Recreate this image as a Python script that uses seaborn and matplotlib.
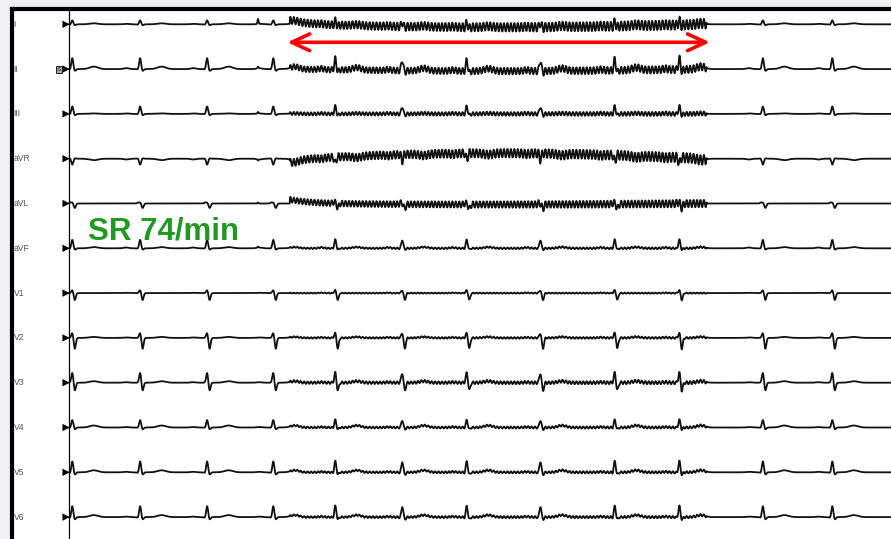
import numpy as np
import pandas as pd
import matplotlib
matplotlib.use("Agg")
import matplotlib.pyplot as plt
import seaborn as sns

# ---------------- data ----------------
leads = ["I", "II", "III", "aVR", "aVL", "aVF", "V1", "V2", "V3", "V4", "V5", "V6"]
beat_times = [0.04, 0.86, 1.67, 2.47, 3.22, 4.03, 4.81, 5.70, 6.60, 7.38, 8.39, 9.23]  # s
# wave amplitudes per lead (mV)
p_amp = [0.05, 0.10, 0.05, -0.08, 0.00, 0.08, 0.03, 0.05, 0.05, 0.05, 0.05, 0.05]
q_amp = [-0.05, -0.05, -0.05, 0.05, 0.10, -0.05, 0.00, 0.00, 0.00, -0.05, -0.10, -0.10]
r_amp = [0.40, 1.10, 0.75, -0.60, 0.10, 0.85, 0.30, 0.50, 1.00, 0.75, 1.10, 1.10]
s_amp = [-0.10, -0.20, -0.15, 0.05, -0.45, -0.15, -0.70, -1.10, -0.80, -0.20, -0.25, -0.25]
t_amp = [0.10, 0.25, 0.05, -0.15, 0.00, 0.12, 0.00, 0.10, 0.15, 0.20, 0.20, 0.20]
# interference (artefact) episode
artefact_span = [2.67, 7.71]  # s
art_amp = [0.42, 0.32, 0.18, 0.42, 0.32, 0.08, 0.05, 0.08, 0.14, 0.10, 0.10, 0.10]
art_shift = [-0.30, -0.20, 0.00, 0.55, -0.10, 0.00, 0.00, 0.00, 0.00, 0.00, 0.00, 0.00]
art_onset = [0.35, 0.00, 0.00, -0.30, 0.40, 0.00, 0.00, 0.00, 0.00, 0.00, 0.00, 0.00]
art_freq = 24.0  # Hz
spike_time = 2.285
spike_amp = [0.50, 0.15, 0.15, -0.10, 0.10, 0.10, 0.0, 0.0, 0.0, 0.0, 0.0, 0.0]
arrow_span = [2.64, 7.75]
annotation = "SR 74/min"

# ---------------- build traces ----------------
PX_PER_S = 82.7
ROW = 4.48  # mV between lead baselines
t = np.arange(0.0, 9.95, 0.001)


def g(x, c, s):
    return np.exp(-0.5 * ((x - c) / s) ** 2)


frames = []
a0, a1 = artefact_span
inside = (t >= a0) & (t <= a1)
u = np.clip((t - a0) / (a1 - a0), 0, 1)
for i, name in enumerate(leads):
    v = np.zeros_like(t)
    for b in beat_times:
        v += p_amp[i] * g(t, b - 0.17, 0.03)
        v += q_amp[i] * g(t, b - 0.025, 0.010)
        v += r_amp[i] * g(t, b, 0.012)
        v += s_amp[i] * g(t, b + 0.03, 0.012)
        v += t_amp[i] * g(t, b + 0.26, 0.05)
    v += spike_amp[i] * g(t, spike_time, 0.006)
    osc = art_amp[i] * (0.85 + 0.3 * u) * np.sin(2 * np.pi * art_freq * t)
    drift = art_onset[i] * np.exp(-(t - a0) / 0.25) + art_shift[i] * np.sin(np.pi * u)
    v = np.where(inside, v + osc + drift, v)
    frames.append(pd.DataFrame({"t": t, "y": v - i * ROW, "lead": name}))
df = pd.concat(frames, ignore_index=True)

# ---------------- figure ----------------
sns.set_style("white")
plt.rcParams["font.family"] = ["Liberation Sans", "DejaVu Sans"]
fig = plt.figure(figsize=(8.91, 5.39), dpi=100, facecolor="#f1f1f3")
ax = fig.add_axes([12 / 891, 0, 879 / 891, 530 / 539])
ax.set_facecolor("white")

sns.lineplot(data=df, x="t", y="y", units="lead", estimator=None, sort=False,
             color="#111111", lw=1.3, ax=ax, legend=False)

offsets = [-i * ROW for i in range(len(leads))]
sns.scatterplot(x=[-0.035] * len(leads), y=offsets, marker=">", s=28, color="black",
                edgecolor="none", ax=ax, legend=False)
ax.axvline(0.0, color="black", lw=0.9)

for i, name in enumerate(leads):
    ax.text(-0.67, offsets[i], name, fontsize=6.2, color="#555555", va="center", ha="left")
ax.text(-0.125, offsets[1], "S", fontsize=4.4, color="#222222", va="center", ha="center",
        bbox=dict(boxstyle="square,pad=0.15", fc="#aaaaaa", ec="#222222", lw=0.7))

ax.annotate("", xy=(arrow_span[1], -1.8), xytext=(arrow_span[0], -1.8),
            arrowprops=dict(arrowstyle="<->,head_length=0.65,head_width=0.3",
                            color="#ff0000", lw=2.6, mutation_scale=20,
                            shrinkA=0, shrinkB=0))
ax.text(0.23, -21.5, annotation, fontsize=22.5, fontweight="bold", color="#1f9a1f",
        va="baseline", ha="left")

ax.set_xlim((12 - 69) / PX_PER_S, (891 - 69) / PX_PER_S)
ax.set_ylim((24.3 - 539) / 10, (24.3 - 9) / 10)
ax.set_xticks([])
ax.set_yticks([])
ax.set_xlabel("")
ax.set_ylabel("")
for side in ["right", "bottom"]:
    ax.spines[side].set_visible(False)
for side in ["top", "left"]:
    ax.spines[side].set_visible(True)
    ax.spines[side].set_linewidth(3.0)
    ax.spines[side].set_color("black")

fig.savefig("out.png", dpi=100, facecolor=fig.get_facecolor())
